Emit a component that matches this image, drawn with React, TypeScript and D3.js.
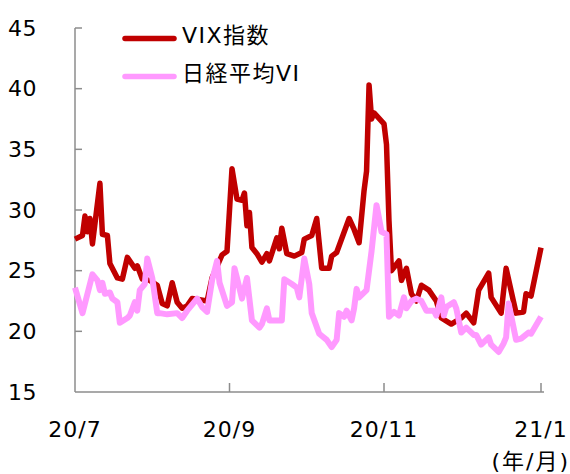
import * as d3 from 'd3'

// values (date, level)
const vixData: [string, number][] = [
  ['2020-07-01', 27.6], ['2020-07-04', 27.9], ['2020-07-05', 29.5], ['2020-07-06', 28.2],
  ['2020-07-07', 29.3], ['2020-07-08', 27.2], ['2020-07-11', 32.2], ['2020-07-12', 28.0],
  ['2020-07-14', 27.9], ['2020-07-15', 25.6], ['2020-07-18', 24.4], ['2020-07-20', 24.3],
  ['2020-07-22', 26.1], ['2020-07-25', 25.2], ['2020-07-26', 25.4], ['2020-07-28', 24.3],
  ['2020-07-31', 24.2], ['2020-08-03', 23.8], ['2020-08-05', 22.3], ['2020-08-07', 22.1],
  ['2020-08-09', 24.0], ['2020-08-11', 22.4], ['2020-08-13', 21.9], ['2020-08-15', 22.1],
  ['2020-08-17', 22.7], ['2020-08-23', 22.5], ['2020-08-25', 24.4], ['2020-08-29', 26.3],
  ['2020-08-31', 26.6], ['2020-09-02', 33.4], ['2020-09-04', 30.9], ['2020-09-06', 30.8],
  ['2020-09-07', 31.4], ['2020-09-08', 28.7], ['2020-09-09', 29.8], ['2020-09-10', 26.9],
  ['2020-09-12', 26.4], ['2020-09-14', 25.7], ['2020-09-16', 26.4], ['2020-09-17', 25.8],
  ['2020-09-20', 27.7], ['2020-09-21', 26.8], ['2020-09-22', 28.5], ['2020-09-24', 26.4],
  ['2020-09-27', 26.2], ['2020-09-30', 26.5], ['2020-10-01', 27.6], ['2020-10-04', 27.9],
  ['2020-10-06', 29.3], ['2020-10-08', 25.2], ['2020-10-11', 25.2], ['2020-10-12', 26.2],
  ['2020-10-14', 26.5], ['2020-10-19', 29.3], ['2020-10-21', 28.4], ['2020-10-23', 27.3],
  ['2020-10-25', 31.6], ['2020-10-26', 33.2], ['2020-10-27', 40.3], ['2020-10-28', 37.5],
  ['2020-10-29', 38.0], ['2020-11-02', 37.1], ['2020-11-03', 35.4], ['2020-11-04', 29.1],
  ['2020-11-05', 25.0], ['2020-11-08', 25.8], ['2020-11-09', 24.2], ['2020-11-11', 25.2],
  ['2020-11-13', 23.1], ['2020-11-15', 22.5], ['2020-11-17', 23.8], ['2020-11-20', 23.4],
  ['2020-11-23', 22.5], ['2020-11-25', 21.1], ['2020-11-29', 20.6], ['2020-12-03', 21.1],
  ['2020-12-05', 21.5], ['2020-12-08', 20.7], ['2020-12-10', 23.4], ['2020-12-14', 24.8],
  ['2020-12-15', 22.8], ['2020-12-19', 21.5], ['2020-12-21', 25.2], ['2020-12-25', 21.5],
  ['2020-12-28', 21.6], ['2020-12-29', 23.1], ['2020-12-31', 22.9], ['2021-01-04', 26.9],
]

const nikkeiData: [string, number][] = [
  ['2020-07-01', 23.6], ['2020-07-04', 21.5], ['2020-07-08', 24.7], ['2020-07-10', 24.2],
  ['2020-07-11', 23.4], ['2020-07-12', 24.0], ['2020-07-13', 23.1], ['2020-07-15', 23.2],
  ['2020-07-16', 22.7], ['2020-07-18', 22.4], ['2020-07-19', 20.7], ['2020-07-22', 21.1],
  ['2020-07-23', 21.3], ['2020-07-25', 22.4], ['2020-07-26', 21.7], ['2020-07-27', 23.4],
  ['2020-07-29', 23.9], ['2020-07-30', 26.0], ['2020-08-01', 24.4], ['2020-08-03', 21.5],
  ['2020-08-04', 21.5], ['2020-08-07', 21.4], ['2020-08-11', 21.5], ['2020-08-13', 21.1],
  ['2020-08-15', 21.7], ['2020-08-19', 22.7], ['2020-08-21', 22.0], ['2020-08-23', 21.6],
  ['2020-08-25', 24.2], ['2020-08-27', 25.8], ['2020-08-28', 24.0], ['2020-08-31', 22.1],
  ['2020-09-02', 22.4], ['2020-09-03', 25.2], ['2020-09-04', 24.4], ['2020-09-06', 22.7],
  ['2020-09-08', 24.4], ['2020-09-10', 20.9], ['2020-09-13', 20.3], ['2020-09-14', 20.6],
  ['2020-09-16', 21.9], ['2020-09-17', 20.9], ['2020-09-22', 20.9], ['2020-09-23', 24.3],
  ['2020-09-26', 23.9], ['2020-09-28', 23.6], ['2020-09-29', 22.8], ['2020-10-01', 26.0],
  ['2020-10-03', 23.9], ['2020-10-04', 21.5], ['2020-10-07', 19.8], ['2020-10-10', 19.3],
  ['2020-10-12', 18.7], ['2020-10-14', 19.3], ['2020-10-15', 21.5], ['2020-10-17', 21.2],
  ['2020-10-18', 21.7], ['2020-10-20', 20.9], ['2020-10-21', 21.9], ['2020-10-22', 23.5],
  ['2020-10-23', 22.8], ['2020-10-26', 23.4], ['2020-10-28', 26.6], ['2020-10-30', 30.4],
  ['2020-11-01', 28.2], ['2020-11-03', 28.0], ['2020-11-04', 21.2], ['2020-11-06', 21.6],
  ['2020-11-08', 21.3], ['2020-11-10', 22.8], ['2020-11-11', 21.9], ['2020-11-13', 22.5],
  ['2020-11-15', 22.7], ['2020-11-17', 22.5], ['2020-11-19', 21.7], ['2020-11-22', 21.7],
  ['2020-11-23', 21.3], ['2020-11-25', 22.8], ['2020-11-26', 21.3], ['2020-11-27', 22.0],
  ['2020-11-30', 22.4], ['2020-12-01', 21.9], ['2020-12-03', 19.9], ['2020-12-05', 20.3],
  ['2020-12-08', 19.7], ['2020-12-09', 19.7], ['2020-12-11', 18.9], ['2020-12-14', 19.5],
  ['2020-12-15', 18.9], ['2020-12-18', 18.3], ['2020-12-20', 19.0], ['2020-12-21', 19.5],
  ['2020-12-22', 22.3], ['2020-12-25', 19.3], ['2020-12-27', 19.4], ['2020-12-30', 19.9],
  ['2020-12-31', 19.8], ['2021-01-04', 21.2],
]

const yTicks = [15, 20, 25, 30, 35, 40, 45]
const xTickDates = ['2020-07-01', '2020-09-01', '2020-11-02', '2021-01-04']
const xTickLabels = ['20/7', '20/9', '20/11', '21/1']
const seriesNames = ['VIX指数', '日経平均VI']
const colors = ['#C00000', '#FF99FF']

const W = 570
const H = 474
const left = 75
const right = 541
const top = 28
const bottom = 392
const font = '"DejaVu Sans", Verdana, "Noto Sans CJK JP", sans-serif'

const parse = d3.timeParse('%Y-%m-%d')

export default function App() {
  const x = d3
    .scaleTime()
    .domain([parse(xTickDates[0])!, parse(xTickDates[xTickDates.length - 1])!])
    .range([left, right])
  const y = d3.scaleLinear().domain([15, 45]).range([bottom, top])

  const line = d3
    .line<[string, number]>()
    .x((d) => x(parse(d[0])!))
    .y((d) => y(d[1]))

  const axisColor = '#8c8c8c'

  return (
    <svg
      width={W}
      height={H}
      style={{ position: 'absolute', left: 0, top: 0, background: '#fff' }}
      fontFamily={font}
    >
      {/* y axis */}
      <line x1={left} x2={left} y1={y(45)} y2={bottom} stroke={axisColor} strokeWidth={1.5} />
      {yTicks.map((t) => (
        <g key={t}>
          {t !== 15 && (
            <line x1={left} x2={left + 7} y1={y(t)} y2={y(t)} stroke={axisColor} strokeWidth={1.5} />
          )}
          <text x={37} y={y(t) + 7.5} textAnchor="end" fontSize={22} letterSpacing={0.5} fill="#000">
            {t}
          </text>
        </g>
      ))}

      {/* x axis */}
      <line x1={left} x2={right + 3} y1={bottom} y2={bottom} stroke={axisColor} strokeWidth={1.5} />
      {xTickDates.map((d, i) => {
        const px = x(parse(d)!)
        return (
          <g key={d}>
            {i > 0 && <line x1={px} x2={px} y1={bottom} y2={bottom - 9} stroke={axisColor} strokeWidth={1.5} />}
            <text x={px} y={436.5} textAnchor="middle" fontSize={22} letterSpacing={1} fill="#000">
              {xTickLabels[i]}
            </text>
          </g>
        )
      })}
      <text x={570} y={469} textAnchor="end" fontSize={22} letterSpacing={2} fill="#000">
        (年/月)
      </text>

      {/* series */}
      {[vixData, nikkeiData].map((data, i) => (
        <path
          key={i}
          d={line(data) ?? ''}
          fill="none"
          stroke={colors[i]}
          strokeWidth={i === 0 ? 5.5 : 6}
          strokeLinejoin="round"
          strokeLinecap="butt"
        />
      ))}

      {/* legend */}
      {seriesNames.map((name, i) => {
        const ly = i === 0 ? 38.5 : 76.5
        return (
          <g key={name}>
            <line x1={125} x2={174} y1={ly} y2={ly} stroke={colors[i]} strokeWidth={5.5} strokeLinecap="round" />
            <text x={182} y={ly + 4} fontSize={22} letterSpacing={1.5} fill="#000">
              {name}
            </text>
          </g>
        )
      })}
    </svg>
  )
}
